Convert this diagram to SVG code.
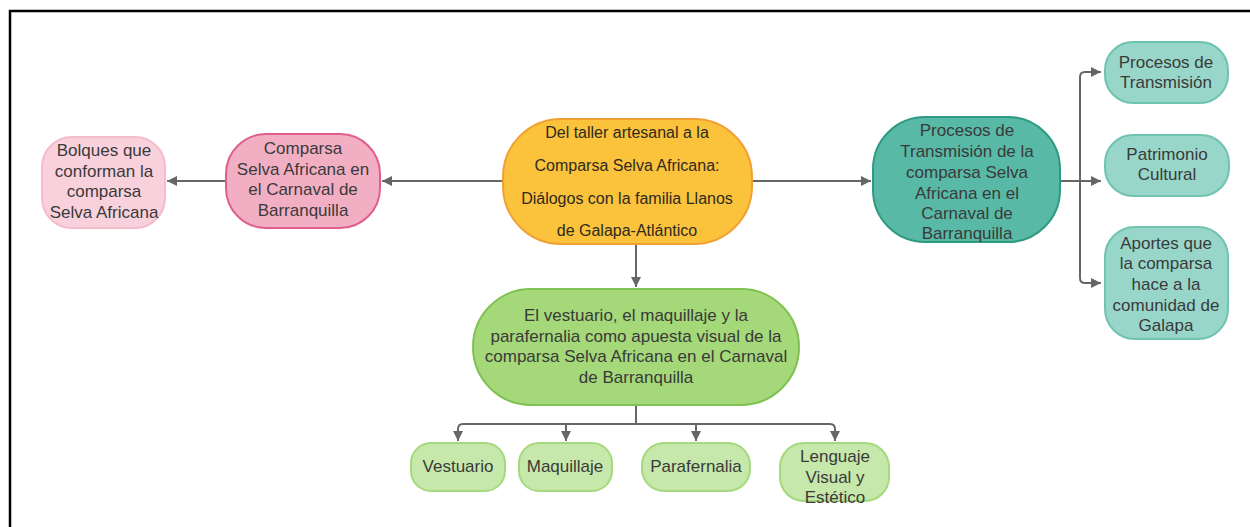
<svg xmlns="http://www.w3.org/2000/svg" width="1250" height="527" viewBox="0 0 1250 527">
<style>
text{font-family:"Liberation Sans",Arial,sans-serif;font-size:17px;fill:#3a3a3a;text-anchor:middle}
.c{fill:none;stroke:#666;stroke-width:2}
.pk1{fill:#f9d1dd;stroke:#f4bccb;stroke-width:2}
.pk2{fill:#f2afc4;stroke:#df5f8a;stroke-width:2}
.or{fill:#fbc23c;stroke:#f0a032;stroke-width:2}
.tl1{fill:#58b9a6;stroke:#2e9a82;stroke-width:2}
.tl2{fill:#98d6c9;stroke:#6fc3b1;stroke-width:2}
.g1{fill:#a4d879;stroke:#7fc152;stroke-width:2}
.g2{fill:#c6e8aa;stroke:#a6d97e;stroke-width:2}
</style>
<defs>
<marker id="ah" viewBox="0 0 10 10" refX="10" refY="5" markerWidth="6" markerHeight="5" markerUnits="strokeWidth" orient="auto">
<path d="M0,0 L10,5 L0,10 z" fill="#666"/>
</marker>
</defs>
<rect width="1250" height="527" fill="#fff"/>
<path d="M10,527 V11 H1250" fill="none" stroke="#000" stroke-width="2.5"/>
<g id="connectors">
<path class="c" d="M503,181 H382" marker-end="url(#ah)"/>
<path class="c" d="M226,181 H167" marker-end="url(#ah)"/>
<path class="c" d="M752,181 H871" marker-end="url(#ah)"/>
<path class="c" d="M636,244 V287" marker-end="url(#ah)"/>
<path class="c" d="M1060,181 H1101" marker-end="url(#ah)"/>
<path class="c" d="M1080,181 V77 Q1080,72 1085,72 H1101" marker-end="url(#ah)"/>
<path class="c" d="M1080,181 V278 Q1080,283 1085,283 H1101" marker-end="url(#ah)"/>
<path class="c" d="M636,405 V424"/>
<path class="c" d="M636,424 H463 Q458,424 458,429 V441" marker-end="url(#ah)"/>
<path class="c" d="M636,424 H830 Q835,424 835,429 V441" marker-end="url(#ah)"/>
<path class="c" d="M566,424 V441" marker-end="url(#ah)"/>
<path class="c" d="M696,424 V441" marker-end="url(#ah)"/>
</g>
<g id="n-bolques">
<rect class="pk1" x="42" y="137" width="123" height="91" rx="30" ry="30"/>
<text x="104" y="156">Bolques que</text>
<text x="104" y="177">conforman la</text>
<text x="104" y="197">comparsa</text>
<text x="104" y="218">Selva Africana</text>
</g>
<g id="n-comparsa">
<rect class="pk2" x="226" y="134" width="154" height="94" rx="40" ry="40"/>
<text x="303" y="154">Comparsa</text>
<text x="303" y="175">Selva Africana en</text>
<text x="303" y="195">el Carnaval de</text>
<text x="303" y="216">Barranquilla</text>
</g>
<g id="n-central">
<rect class="or" x="503" y="119" width="249" height="125" rx="58" ry="58"/>
<text x="627" y="138" style="font-size:16px;fill:#2e2a1e">Del taller artesanal a la</text>
<text x="627" y="171" style="font-size:16px;fill:#2e2a1e">Comparsa Selva Africana:</text>
<text x="627" y="204" style="font-size:16px;fill:#2e2a1e">Diálogos con la familia Llanos</text>
<text x="627" y="236" style="font-size:16px;fill:#2e2a1e">de Galapa-Atlántico</text>
</g>
<g id="n-transmision">
<rect class="tl1" x="873" y="117" width="187" height="125" rx="52" ry="52"/>
<text x="967" y="136">Procesos de</text>
<text x="967" y="157">Transmisión de la</text>
<text x="967" y="178">comparsa Selva</text>
<text x="967" y="199">Africana en el</text>
<text x="967" y="219">Carnaval de</text>
<text x="967" y="239">Barranquilla</text>
</g>
<g id="n-procesos">
<rect class="tl2" x="1105" y="42" width="123" height="61" rx="28" ry="28"/>
<text x="1166" y="68">Procesos de</text>
<text x="1166" y="88">Transmisión</text>
</g>
<g id="n-patrimonio">
<rect class="tl2" x="1105" y="135" width="124" height="61" rx="28" ry="28"/>
<text x="1167" y="160">Patrimonio</text>
<text x="1167" y="180">Cultural</text>
</g>
<g id="n-aportes">
<rect class="tl2" x="1105" y="227" width="123" height="112" rx="30" ry="30"/>
<text x="1166" y="249">Aportes que</text>
<text x="1166" y="269">la comparsa</text>
<text x="1166" y="290">hace a la</text>
<text x="1166" y="311">comunidad de</text>
<text x="1166" y="331">Galapa</text>
</g>
<g id="n-vestuario-main">
<rect class="g1" x="473" y="289" width="326" height="116" rx="58" ry="58"/>
<text x="636" y="321">El vestuario, el maquillaje y la</text>
<text x="636" y="342">parafernalia como apuesta visual de la</text>
<text x="636" y="362">comparsa Selva Africana en el Carnaval</text>
<text x="636" y="383">de Barranquilla</text>
</g>
<g id="n-vestuario">
<rect class="g2" x="411" y="443" width="94" height="48" rx="20" ry="20"/>
<text x="458" y="472">Vestuario</text>
</g>
<g id="n-maquillaje">
<rect class="g2" x="519" y="443" width="93" height="48" rx="20" ry="20"/>
<text x="565" y="472">Maquillaje</text>
</g>
<g id="n-parafernalia">
<rect class="g2" x="642" y="443" width="108" height="48" rx="22" ry="22"/>
<text x="696" y="472">Parafernalia</text>
</g>
<g id="n-lenguaje">
<rect class="g2" x="780" y="443" width="109" height="58" rx="24" ry="24"/>
<text x="835" y="462">Lenguaje</text>
<text x="835" y="483">Visual y</text>
<text x="835" y="503">Estético</text>
</g>
</svg>
